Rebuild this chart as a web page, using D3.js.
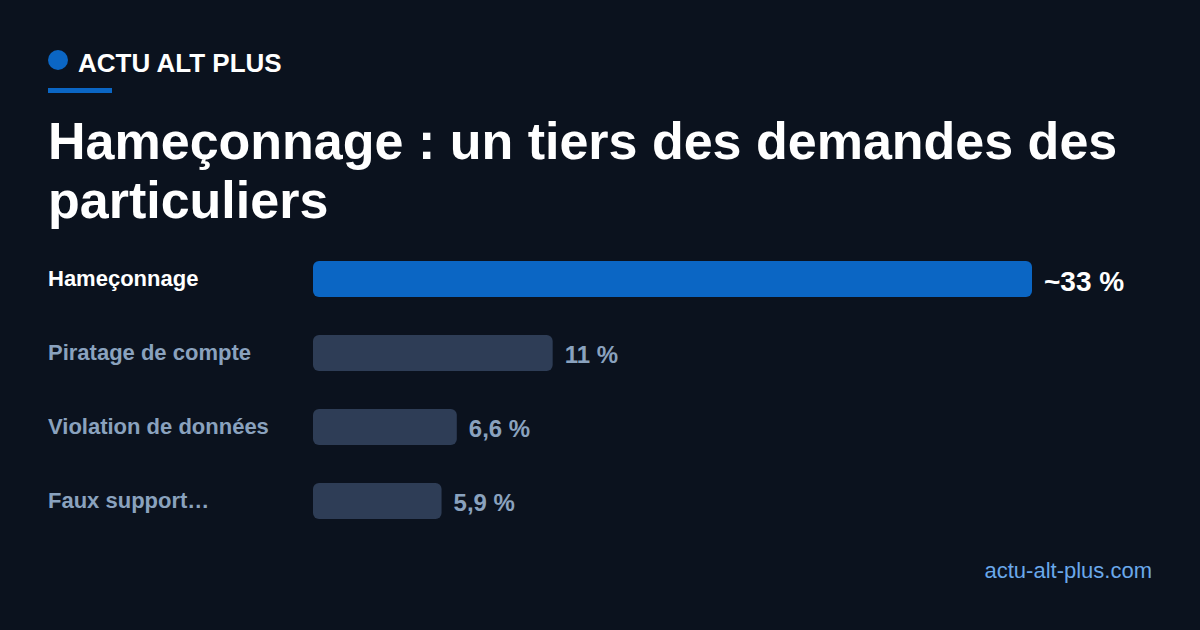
<!DOCTYPE html>
<html><head><meta charset="utf-8">
<script src="https://cdn.jsdelivr.net/npm/d3@7"></script>
<style>
html,body{margin:0;padding:0;background:#0b121e;}
svg{display:block;font-family:"Liberation Sans",Arial,sans-serif;}
</style></head>
<body>
<svg id="c" width="1200" height="630"></svg>
<script>
const brand = "ACTU ALT PLUS";
const titleLines = ["Hameçonnage : un tiers des demandes des", "particuliers"];
const categories = ["Hameçonnage", "Piratage de compte", "Violation de données", "Faux support…"];
const values = [33, 11, 6.6, 5.9];
const valueLabels = ["~33 %", "11 %", "6,6 %", "5,9 %"];
const source = "actu-alt-plus.com";

const svg = d3.select("#c");
svg.append("rect").attr("width",1200).attr("height",630).attr("fill","#0b121e");

svg.append("circle").attr("cx",58).attr("cy",60).attr("r",10).attr("fill","#0b66c4");
svg.append("text").attr("x",78).attr("y",72).attr("fill","#ffffff")
  .attr("font-size",26).attr("font-weight","bold").text(brand);
svg.append("rect").attr("x",48).attr("y",88).attr("width",64).attr("height",5).attr("fill","#0b66c4");

svg.append("g").selectAll("text").data(titleLines).join("text")
  .attr("x",48).attr("y",(d,i)=>159+i*59)
  .attr("fill","#ffffff").attr("font-size",52).attr("font-weight","bold").text(d=>d);

const x = d3.scaleLinear().domain([0,33]).range([313,1032]);
const y = d3.scaleBand().domain(categories).range([261,519]).paddingInner(38/74).paddingOuter(0);
const bh = y.bandwidth();

const rows = svg.append("g").selectAll("g").data(categories).join("g");
rows.append("rect")
  .attr("x",x(0)).attr("y",d=>y(d))
  .attr("width",(d,i)=>x(values[i])-x(0)).attr("height",bh)
  .attr("rx",6).attr("ry",6)
  .attr("fill",(d,i)=>i===0?"#0b66c4":"#2e3d56");
rows.append("text")
  .attr("x",48).attr("y",d=>y(d)+25)
  .attr("font-size",22).attr("font-weight","bold")
  .attr("fill",(d,i)=>i===0?"#ffffff":"#8aa2be").text(d=>d);
rows.append("text")
  .attr("x",(d,i)=>x(values[i])+12).attr("y",(d,i)=>y(d)+(i===0?30:28))
  .attr("font-size",(d,i)=>i===0?28:24).attr("font-weight","bold")
  .attr("fill",(d,i)=>i===0?"#ffffff":"#8aa2be").text((d,i)=>valueLabels[i]);

svg.append("text").attr("x",1152).attr("y",578).attr("text-anchor","end")
  .attr("font-size",22).attr("fill","#6aa8ea").text(source);
</script>
</body></html>
